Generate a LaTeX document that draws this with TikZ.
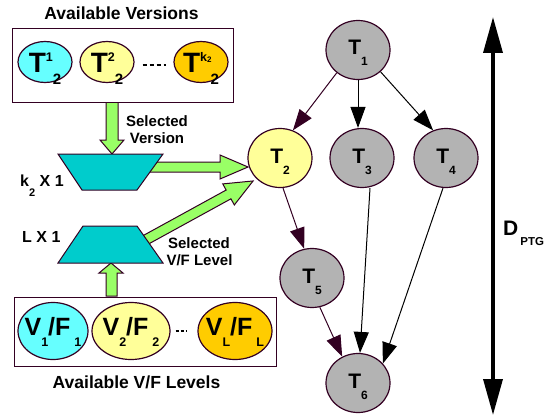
\documentclass[tikz,border=0pt]{standalone}
\usepackage{fontspec}
\setmainfont{Liberation Sans}
\usetikzlibrary{shapes.geometric,arrows.meta}
\definecolor{plum}{HTML}{330022}
\definecolor{cyanfill}{HTML}{66FFFF}
\definecolor{muxfill}{HTML}{00CCCC}
\definecolor{yel}{HTML}{FFFF99}
\definecolor{orng}{HTML}{FFCC00}
\definecolor{grn}{HTML}{99FF66}
\definecolor{gry}{HTML}{B3B3B3}
\newcommand{\fsz}[1]{\fontsize{#1}{#1}\selectfont}
\newcommand{\tsub}[1]{\raisebox{-11pt}{\fsz{12}#1}}
\newcommand{\ctr}[1]{\makebox[0pt]{#1}}
\begin{document}
\begin{tikzpicture}[x=1pt,y=1pt,
  every node/.style={font=\bfseries},
  task/.style={ellipse, draw=plum, line width=1.2pt, fill=gry, minimum width=64pt, minimum height=59pt, inner sep=0pt, text height=10pt, text depth=0pt, font=\bfseries\fsz{21}},
  ver/.style={ellipse, draw=plum, line width=1.2pt, minimum width=54pt, minimum height=41pt, inner sep=0pt, text height=22pt, text depth=0pt, font=\bfseries\fsz{28}},
  lvl/.style={ellipse, draw=plum, line width=1.2pt, minimum height=57pt, inner sep=0pt, text height=8pt, text depth=0pt, font=\bfseries\fsz{25}},
  boxframe/.style={draw=plum, line width=1.3pt, fill=white, inner sep=0pt, anchor=north west},
  mux/.style={draw=plum, line width=1pt, fill=muxfill},
  fat/.style={draw=plum, line width=1pt, fill=grn},
  dep/.style={-{Triangle[length=21pt,width=15pt]}, line width=1pt},
  lbl/.style={font=\bfseries\fsz{15}, anchor=base, inner sep=0pt},
  big/.style={font=\bfseries\fsz{17.5}, anchor=base, inner sep=0pt},
  muxlbl/.style={font=\bfseries\fsz{16}, anchor=base west, inner sep=0pt},
]
\useasboundingbox (0,0) rectangle (559,-417);

% fat green arrows (drawn first, partly hidden)
\draw[fat] (106,-102) -- (106,-140) -- (100,-140) -- (112,-154) -- (124,-140) -- (118,-140) -- (118,-102) -- cycle;
\draw[fat] (106,-296) -- (106,-273) -- (99,-273) -- (111,-263) -- (123,-273) -- (117,-273) -- (117,-296) -- cycle;
\draw[fat] (145,-162) -- (220,-162) -- (220,-155) -- (248,-167) -- (220,-179) -- (220,-172) -- (145,-172) -- cycle;
\begin{scope}[shift={(140,-243)}, rotate=28.75]
  \draw[fat] (0,5) -- (101,5) -- (101,12) -- (129,0) -- (101,-12) -- (101,-5) -- (0,-5) -- cycle;
\end{scope}

% multiplexers
\draw[mux] (58,-154) -- (163,-154) -- (137,-190) -- (82,-190) -- cycle;
\draw[mux] (83,-226) -- (137,-226) -- (163,-263) -- (58,-263) -- cycle;

% available versions
\node[big] (title1) at (121.5,-20) {Available Versions};
\node[boxframe, minimum width=221pt, minimum height=74pt] (vbox) at (12,-28) {};
\node[ver, fill=cyanfill] (v1) at (45,-62) {\ctr{T\raisebox{11pt}{\fsz{12.5}1}\raisebox{-12pt}{\fsz{15}2}}};
\node[ver, fill=yel] (v2) at (107,-62) {\ctr{T\raisebox{11pt}{\fsz{12.5}2}\raisebox{-12pt}{\fsz{15}2}}};
\node[ver, fill=orng] (vk) at (201,-62) {\ctr{T\raisebox{11pt}{\fsz{12.5}k\raisebox{-1pt}{\fsz{8}2}}\kern-1pt\raisebox{-12pt}{\fsz{15}2}}};
\draw[line width=2pt, dash pattern=on 4pt off 3pt, shorten <=8pt, shorten >=7pt] ([yshift=-3pt]v2.east) -- ([yshift=-3pt]vk.west);

% labels
\node[lbl] (selv1) at (157,-127) {Selected};
\node[lbl] (selv2) at (157,-143) {Version};
\node[muxlbl] (k2lbl) at (20,-186) {k\raisebox{-10pt}{\fsz{11}2} X 1};
\node[muxlbl] (llbl) at (22,-242) {L X 1};
\node[lbl] (self1) at (199,-248) {Selected};
\node[lbl] (self2) at (199.5,-265) {V/F Level};

% available V/F levels
\node[boxframe, minimum width=262pt, minimum height=69pt] (lbox) at (14,-297) {};
\node[lvl, fill=cyanfill, minimum width=70pt] (l1) at (53,-331) {\ctr{V\raisebox{-11pt}{\fsz{12.5}1}/F\kern4pt\raisebox{-11pt}{\fsz{12.5}1}}};
\node[lvl, fill=yel, minimum width=78pt] (l2) at (131,-331) {\ctr{V\raisebox{-11pt}{\fsz{12.5}2}/F\kern4pt\raisebox{-11pt}{\fsz{12.5}2}}};
\node[lvl, fill=orng, minimum width=74pt] (lL) at (235,-331) {\ctr{V\raisebox{-11pt}{\fsz{12.5}L}/F\kern4pt\raisebox{-11pt}{\fsz{12.5}L}}};
\draw[line width=2pt, dash pattern=on 3pt off 2pt, shorten <=5pt, shorten >=10pt] (l2.east) -- (lL.west);
\node[big] (title2) at (136.5,-388) {Available V/F Levels};

% task graph
\node[task] (t1) at (358,-50) {T\tsub{1}};
\node[task, fill=yel] (t2) at (280,-158) {T\tsub{2}};
\node[task] (t3) at (362,-158) {T\tsub{3}};
\node[task] (t4) at (446,-158) {T\tsub{4}};
\node[task] (t5) at (312,-278) {T\tsub{5}};
\node[task] (t6) at (358,-383) {T\tsub{6}};

\draw[dep, plum] (t1.227) -- (t2.65);
\draw[dep] (t1.south) -- (t1.south |- t3.north);
\draw[dep] (t1.-44) -- (t4.115);
\draw[dep, plum] ([xshift=3pt]t2.south) -- (t5.105);
\draw[dep] ([xshift=8pt]t3.south) -- ([xshift=2pt]t6.north);
\draw[dep] ([xshift=-3pt]t4.south) -- (t6.38);
\draw[dep, plum] (t5.-75) -- (t6.121);

% depth arrow
\coordinate (dtop) at (493,-17);
\coordinate (dbot) at (493,-415);
\draw[line width=3.5pt, {Triangle[length=36pt,width=19pt]}-{Triangle[length=36pt,width=19pt]}] (dtop) -- (dbot);
\node[font=\bfseries\fsz{21}, anchor=base west, inner sep=0pt] (dlbl) at (503,-235) {D\kern2pt\raisebox{-10pt}{\fsz{11.5}PTG}};
\end{tikzpicture}
\end{document}
